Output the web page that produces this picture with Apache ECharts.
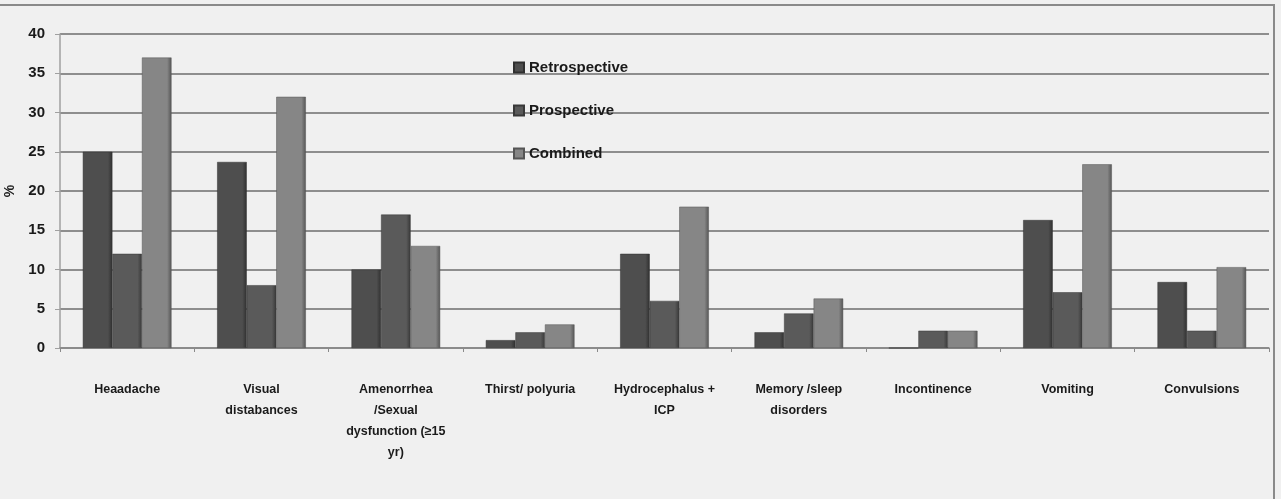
<!DOCTYPE html>
<html><head><meta charset="utf-8">
<script src="https://cdn.jsdelivr.net/npm/echarts@6/dist/echarts.min.js"></script>
<style>html,body{margin:0;padding:0;background:#f0f0f0}#c{width:1281px;height:499px}</style>
</head><body><div id="c"></div>
<script>
const categories = ['Heaadache','Visual\ndistabances','Amenorrhea\n/Sexual\ndysfunction (≥15\nyr)','Thirst/ polyuria','Hydrocephalus +\nICP','Memory /sleep\ndisorders','Incontinence','Vomiting','Convulsions'];
const retrospective = [25, 23.7, 10, 1, 12, 2, 0, 16.3, 8.4];
const prospective = [12, 8, 17, 2, 6, 4.4, 2.2, 7.1, 2.2];
const combined = [37, 32, 13, 3, 18, 6.3, 2.2, 23.4, 10.3];
const yTicks = {min: 0, max: 40, interval: 5};

const FONT = '"Liberation Sans", Arial, sans-serif';
function bar(name, data, mid, edge) {
  return {
    name, type: 'bar', data, barGap: '0%', barCategoryGap: '34%',
    itemStyle: {
      color: {type:'linear', x:0, y:0, x2:1, y2:0, colorStops:[
        {offset:0, color: mid}, {offset:0.85, color: mid}, {offset:1, color: edge}]},
      borderColor: edge, borderWidth: 0.5
    }
  };
}
const chart = echarts.init(document.getElementById('c'), null, {renderer:'canvas'});
chart.setOption({
  backgroundColor: '#f0f0f0',
  animation: false,
  textStyle: {fontFamily: FONT},
  color: ['#4e4e4e','#5a5a5a','#868686'],
  graphic: [{type:'rect', shape:{x:-2, y:5, width:1276, height:520}, style:{fill:'none', stroke:'#8a8a8a', lineWidth:2}, z:-1}],
  legend: {
    orient: 'vertical', left: 508, top: 55, itemGap: 28, itemWidth: 10, itemHeight: 10,
    icon: 'rect',
    textStyle: {fontFamily: FONT, fontWeight: 'bold', fontSize: 15, color: '#1a1a1a'},
    data: ['Retrospective','Prospective','Combined']
  },
  grid: {left: 60, right: 12, top: 34, bottom: 151, outerBoundsMode: 'none', containLabel: false},
  xAxis: {
    type: 'category', data: categories,
    axisLine: {lineStyle: {color: '#8a8a8a', width: 1.5}},
    axisTick: {show: true, length: 4, lineStyle: {color: '#8a8a8a'}},
    axisLabel: {interval: 0, margin: 31, fontFamily: FONT, fontWeight: 'bold', fontSize: 12.5, lineHeight: 21, color: '#1a1a1a'}
  },
  yAxis: {
    type: 'value', min: yTicks.min, max: yTicks.max, interval: yTicks.interval,
    name: '%', nameLocation: 'middle', nameRotate: 90, nameGap: 40,
    nameTextStyle: {fontFamily: FONT, fontWeight: 'bold', fontSize: 14, color: '#1a1a1a'},
    axisLine: {show: true, lineStyle: {color: '#a0a0a0', width: 1.5}},
    axisTick: {show: true, inside: false, length: 5, lineStyle: {color: '#a0a0a0'}},
    axisLabel: {margin: 15, fontFamily: FONT, fontWeight: 'bold', fontSize: 15, color: '#1a1a1a'},
    splitLine: {lineStyle: {color: '#6e6e6e', width: 1.5}}
  },
  series: [
    bar('Retrospective', retrospective, '#4e4e4e', '#303030'),
    bar('Prospective', prospective, '#5a5a5a', '#383838'),
    bar('Combined', combined, '#868686', '#555555')
  ]
});
</script></body></html>
